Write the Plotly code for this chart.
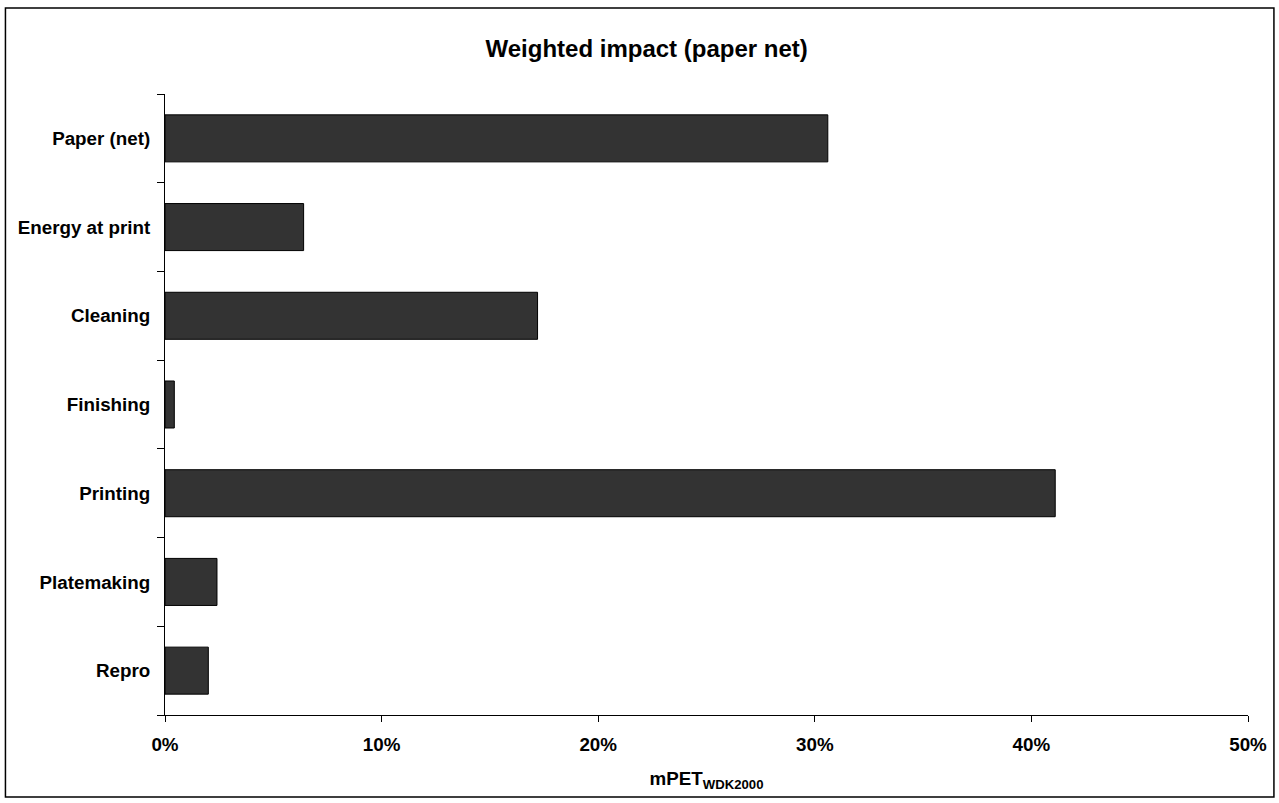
import plotly.graph_objects as go

# Share of weighted impact per process step (mPET, WDK2000), in percent
categories = ["Repro", "Platemaking", "Printing", "Finishing", "Cleaning",
              "Energy at print", "Paper (net)"]
impact_pct = [2.0, 2.4, 41.1, 0.43, 17.2, 6.4, 30.6]
x_ticks = [0, 10, 20, 30, 40, 50]
x_tick_labels = ["0%", "10%", "20%", "30%", "40%", "50%"]

W, H = 1279, 803
L, R, T, B = 165, 28, 94, 88
plot_w = W - L - R
plot_h = H - T - B

FONT = "Liberation Sans, Arial, sans-serif"
LABEL_SIZE = 18.8

fig = go.Figure(
    go.Bar(
        x=impact_pct,
        y=categories,
        orientation="h",
        width=0.53,
        marker=dict(color="#333333", line=dict(color="#000000", width=1)),
        hoverinfo="x+y",
    )
)

# outer frame around the whole chart
def px_to_paper_x(px):
    return (px - L) / plot_w

def px_to_paper_y(py):
    return (H - B - py) / plot_h

fig.add_shape(
    type="rect", xref="paper", yref="paper",
    x0=px_to_paper_x(5), x1=px_to_paper_x(1277),
    y0=px_to_paper_y(797), y1=px_to_paper_y(8),
    line=dict(color="#000000", width=1.5), fillcolor="rgba(0,0,0,0)",
    layer="below",
)

fig.update_layout(
    width=W, height=H,
    margin=dict(l=L, r=R, t=T, b=B, pad=0),
    paper_bgcolor="white", plot_bgcolor="white",
    showlegend=False,
    font=dict(family=FONT, color="#000000"),
    title=dict(
        text="<b>Weighted impact (paper net)</b>",
        x=px_to_paper_x(648), xref="paper", xanchor="center",
        y=1 - 49 / H, yref="container", yanchor="middle",
        font=dict(size=24, family=FONT, color="#000000"),
    ),
    xaxis=dict(
        range=[0, 50],
        tickvals=x_ticks, ticktext=[f"<b>{t}</b>" for t in x_tick_labels],
        ticks="outside", ticklen=6, tickcolor="#000000", tickwidth=1,
        showline=True, linecolor="#000000", linewidth=1,
        showgrid=False, zeroline=False,
        tickfont=dict(size=LABEL_SIZE, family=FONT),
        ticklabelstandoff=6,
        title=dict(text="<b>mPET<sub>WDK2000</sub></b>",
                   font=dict(size=LABEL_SIZE, family=FONT), standoff=18),
        fixedrange=True,
    ),
    yaxis=dict(
        categoryorder="array", categoryarray=categories,
        ticks="outside", ticklen=7, tickcolor="#000000", tickwidth=1,
        tickson="boundaries",
        showline=True, linecolor="#000000", linewidth=1,
        showgrid=False, zeroline=False,
        tickfont=dict(size=LABEL_SIZE, family=FONT),
        ticktext=[f"<b>{c}</b>" for c in categories], tickvals=categories,
        ticklabelstandoff=10,
        fixedrange=True,
    ),
    bargap=0.47,
)

fig.write_html("out.html", config={"displayModeBar": False})
